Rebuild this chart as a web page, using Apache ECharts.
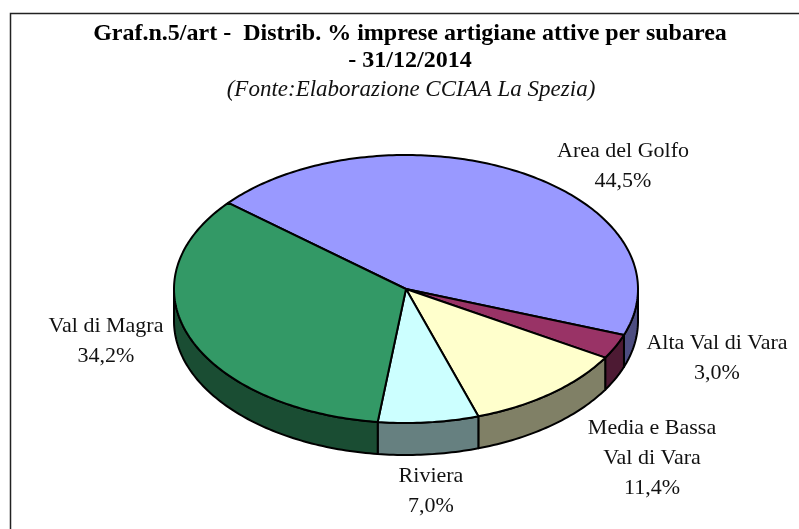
<!DOCTYPE html>
<html>
<head>
<meta charset="utf-8">
<style>
  html, body { margin: 0; padding: 0; background: #fff; }
  #chart { width: 799px; height: 529px; }
</style>
<script src="https://cdn.jsdelivr.net/npm/echarts@6/dist/echarts.min.js"></script>
</head>
<body>
<div id="chart"></div>
<script>
const categories = ["Area del Golfo", "Alta Val di Vara", "Media e Bassa\nVal di Vara", "Riviera", "Val di Magra"];
const shares = [44.5, 3.0, 11.4, 7.0, 34.2];
const shareLabels = ["44,5%", "3,0%", "11,4%", "7,0%", "34,2%"];
const titleLines = ["Graf.n.5/art -  Distrib. % imprese artigiane attive per subarea", "- 31/12/2014"];
const sourceLine = "(Fonte:Elaborazione CCIAA La Spezia)";

const topColors = ["#9999ff", "#993366", "#ffffcc", "#ccffff", "#339966"];
const wallColors = ["#4d4d80", "#4d1a33", "#808066", "#668080", "#1a4d33"];

// pie geometry, flattened by hand because the pie series can only draw circles
const cx = 406, cy = 289, rx = 232, ry = 134, depth = 32;
const firstAngle = 140; // degrees, counter clockwise from east
const labelAt = [
  [623, 136], [717, 328], [652, 413], [431, 461], [106, 311],
];

const total = shares.reduce((a, b) => a + b, 0);

function pointAt(deg, dy) {
  const r = (deg * Math.PI) / 180;
  return [cx + rx * Math.cos(r), cy - ry * Math.sin(r) + dy];
}

function arc(from, to, dy) {
  const pts = [];
  const steps = Math.max(2, Math.ceil(Math.abs(to - from)));
  for (let i = 0; i <= steps; i++) pts.push(pointAt(from + ((to - from) * i) / steps, dy));
  return pts;
}

// part of [a, b] (a > b, clockwise) that faces the viewer
function frontParts(a, b) {
  const parts = [];
  for (const k of [0, -360]) {
    const hi = Math.min(a, 360 + k);
    const lo = Math.max(b, 180 + k);
    if (hi > lo) parts.push([hi, lo]);
  }
  return parts;
}

function renderSlice(params, api) {
  const i = params.dataIndex;
  let before = 0;
  for (let k = 0; k < i; k++) before += shares[k];
  const a = firstAngle - (before / total) * 360;
  const b = a - (api.value(0) / total) * 360;
  const line = { stroke: "#000", lineWidth: 2, lineJoin: "round" };
  const children = [];

  frontParts(a, b).forEach(([hi, lo]) => {
    children.push({
      type: "polygon",
      shape: { points: arc(hi, lo, 0).concat(arc(lo, hi, depth)) },
      style: Object.assign({ fill: wallColors[i] }, line),
    });
  });
  children.push({
    type: "polygon",
    shape: { points: [[cx, cy]].concat(arc(a, b, 0)) },
    style: Object.assign({ fill: topColors[i] }, line),
  });
  children.push({
    type: "text",
    style: {
      x: labelAt[i][0],
      y: labelAt[i][1],
      text: categories[i] + "\n" + shareLabels[i],
      font: "22px 'Liberation Serif'",
      lineHeight: 30,
      fill: "#111",
      align: "center",
      verticalAlign: "top",
    },
  });
  return { type: "group", children };
}

const chart = echarts.init(document.getElementById("chart"), null, { renderer: "canvas" });
chart.setOption({
  animation: false,
  backgroundColor: "#fff",
  graphic: [
    // the frame runs off the right and bottom of the picture
    { type: "rect", shape: { x: 10.5, y: 13.5, width: 820, height: 560 }, style: { fill: "none", stroke: "#222", lineWidth: 1.5 }, silent: true },
    { type: "text", style: { x: 410, y: 34, text: titleLines[0], font: "bold 24px 'Liberation Serif'", fill: "#000", align: "center", verticalAlign: "middle" } },
    { type: "text", style: { x: 410, y: 61, text: titleLines[1], font: "bold 24px 'Liberation Serif'", fill: "#000", align: "center", verticalAlign: "middle" } },
    { type: "text", style: { x: 411, y: 90, text: sourceLine, font: "italic 23px 'Liberation Serif'", fill: "#111", align: "center", verticalAlign: "middle" } },
  ],
  series: [
    {
      type: "custom",
      coordinateSystem: "none",
      renderItem: renderSlice,
      data: shares.map((v, i) => ({ name: categories[i], value: [v] })),
    },
  ],
});
</script>
</body>
</html>
